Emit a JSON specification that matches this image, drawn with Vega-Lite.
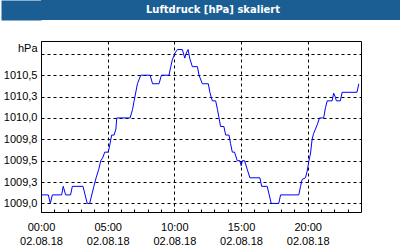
{
  "$schema": "https://vega.github.io/schema/vega-lite/v6.json",
  "background": "white",
  "padding": 0,
  "autosize": {"type": "pad"},
  "spacing": 20,
  "config": {
    "view": {"stroke": "black", "strokeWidth": 1},
    "font": "Liberation Sans",
    "axis": {"labelColor": "black", "labelFont": "Liberation Sans", "labelFontSize": 11}
  },
  "vconcat": [
    {
      "width": 360,
      "height": 20,
      "view": {"fill": "#1a5e94", "stroke": null},
      "data": {"values": [{"title": "Luftdruck [hPa] skaliert", "band": 1}]},
      "mark": {"type": "text", "color": "white", "font": "DejaVu Sans", "fontSize": 10, "fontWeight": "bold", "dx": -8},
      "encoding": {
        "text": {"field": "title", "type": "nominal"},
        "y": {
          "field": "band",
          "type": "quantitative",
          "scale": {"domain": [0, 2]},
          "axis": {
            "title": null,
            "labels": false,
            "ticks": false,
            "grid": false,
            "domain": true,
            "domainColor": "#1a5e94",
            "domainWidth": 40,
            "domainCap": "butt",
            "offset": 20
          }
        }
      }
    },
    {
      "width": 320,
      "height": 171,
      "view": {"fill": "white", "stroke": "black"},
      "data": {"values": [
        {"time": "2018-08-02T00:03:00", "hPa": 1009.1},
        {"time": "2018-08-02T00:33:00", "hPa": 1009.1},
        {"time": "2018-08-02T00:42:00", "hPa": 1009.0},
        {"time": "2018-08-02T00:51:00", "hPa": 1009.1},
        {"time": "2018-08-02T01:33:00", "hPa": 1009.1},
        {"time": "2018-08-02T01:40:00", "hPa": 1009.2},
        {"time": "2018-08-02T01:51:00", "hPa": 1009.1},
        {"time": "2018-08-02T02:13:00", "hPa": 1009.1},
        {"time": "2018-08-02T02:21:00", "hPa": 1009.2},
        {"time": "2018-08-02T03:09:00", "hPa": 1009.2},
        {"time": "2018-08-02T03:28:00", "hPa": 1009.0},
        {"time": "2018-08-02T03:39:00", "hPa": 1009.0},
        {"time": "2018-08-02T03:58:00", "hPa": 1009.2},
        {"time": "2018-08-02T04:08:00", "hPa": 1009.3},
        {"time": "2018-08-02T04:20:00", "hPa": 1009.4},
        {"time": "2018-08-02T04:29:00", "hPa": 1009.5},
        {"time": "2018-08-02T04:37:00", "hPa": 1009.53},
        {"time": "2018-08-02T04:47:00", "hPa": 1009.6},
        {"time": "2018-08-02T05:02:00", "hPa": 1009.6},
        {"time": "2018-08-02T05:07:00", "hPa": 1009.65},
        {"time": "2018-08-02T05:18:00", "hPa": 1009.8},
        {"time": "2018-08-02T05:29:00", "hPa": 1009.8},
        {"time": "2018-08-02T05:37:00", "hPa": 1009.87},
        {"time": "2018-08-02T05:41:00", "hPa": 1010.0},
        {"time": "2018-08-02T06:41:00", "hPa": 1010.0},
        {"time": "2018-08-02T06:52:00", "hPa": 1010.1},
        {"time": "2018-08-02T06:59:00", "hPa": 1010.2},
        {"time": "2018-08-02T07:14:00", "hPa": 1010.4},
        {"time": "2018-08-02T07:29:00", "hPa": 1010.5},
        {"time": "2018-08-02T08:11:00", "hPa": 1010.5},
        {"time": "2018-08-02T08:22:00", "hPa": 1010.4},
        {"time": "2018-08-02T08:51:00", "hPa": 1010.4},
        {"time": "2018-08-02T09:02:00", "hPa": 1010.5},
        {"time": "2018-08-02T09:36:00", "hPa": 1010.5},
        {"time": "2018-08-02T09:44:00", "hPa": 1010.6},
        {"time": "2018-08-02T09:51:00", "hPa": 1010.68},
        {"time": "2018-08-02T10:03:00", "hPa": 1010.76},
        {"time": "2018-08-02T10:14:00", "hPa": 1010.8},
        {"time": "2018-08-02T10:36:00", "hPa": 1010.8},
        {"time": "2018-08-02T10:47:00", "hPa": 1010.7},
        {"time": "2018-08-02T10:54:00", "hPa": 1010.76},
        {"time": "2018-08-02T11:02:00", "hPa": 1010.8},
        {"time": "2018-08-02T11:09:00", "hPa": 1010.7},
        {"time": "2018-08-02T11:21:00", "hPa": 1010.6},
        {"time": "2018-08-02T11:44:00", "hPa": 1010.6},
        {"time": "2018-08-02T11:51:00", "hPa": 1010.5},
        {"time": "2018-08-02T12:06:00", "hPa": 1010.4},
        {"time": "2018-08-02T12:33:00", "hPa": 1010.4},
        {"time": "2018-08-02T12:40:00", "hPa": 1010.3},
        {"time": "2018-08-02T12:51:00", "hPa": 1010.2},
        {"time": "2018-08-02T13:06:00", "hPa": 1010.2},
        {"time": "2018-08-02T13:14:00", "hPa": 1010.1},
        {"time": "2018-08-02T13:21:00", "hPa": 1010.0},
        {"time": "2018-08-02T13:28:00", "hPa": 1009.9},
        {"time": "2018-08-02T13:43:00", "hPa": 1009.9},
        {"time": "2018-08-02T13:51:00", "hPa": 1009.8},
        {"time": "2018-08-02T14:06:00", "hPa": 1009.8},
        {"time": "2018-08-02T14:13:00", "hPa": 1009.7},
        {"time": "2018-08-02T14:21:00", "hPa": 1009.6},
        {"time": "2018-08-02T14:31:00", "hPa": 1009.6},
        {"time": "2018-08-02T14:43:00", "hPa": 1009.5},
        {"time": "2018-08-02T14:55:00", "hPa": 1009.5},
        {"time": "2018-08-02T15:01:00", "hPa": 1009.44},
        {"time": "2018-08-02T15:06:00", "hPa": 1009.5},
        {"time": "2018-08-02T15:16:00", "hPa": 1009.5},
        {"time": "2018-08-02T15:28:00", "hPa": 1009.4},
        {"time": "2018-08-02T15:40:00", "hPa": 1009.3},
        {"time": "2018-08-02T16:25:00", "hPa": 1009.3},
        {"time": "2018-08-02T16:33:00", "hPa": 1009.2},
        {"time": "2018-08-02T16:58:00", "hPa": 1009.2},
        {"time": "2018-08-02T17:16:00", "hPa": 1009.0},
        {"time": "2018-08-02T17:50:00", "hPa": 1009.0},
        {"time": "2018-08-02T17:58:00", "hPa": 1009.1},
        {"time": "2018-08-02T19:20:00", "hPa": 1009.1},
        {"time": "2018-08-02T19:28:00", "hPa": 1009.2},
        {"time": "2018-08-02T19:35:00", "hPa": 1009.28},
        {"time": "2018-08-02T19:50:00", "hPa": 1009.3},
        {"time": "2018-08-02T19:58:00", "hPa": 1009.38},
        {"time": "2018-08-02T20:05:00", "hPa": 1009.49},
        {"time": "2018-08-02T20:13:00", "hPa": 1009.59},
        {"time": "2018-08-02T20:20:00", "hPa": 1009.75},
        {"time": "2018-08-02T20:27:00", "hPa": 1009.82},
        {"time": "2018-08-02T20:43:00", "hPa": 1009.92},
        {"time": "2018-08-02T20:53:00", "hPa": 1010.0},
        {"time": "2018-08-02T21:12:00", "hPa": 1010.0},
        {"time": "2018-08-02T21:20:00", "hPa": 1010.12},
        {"time": "2018-08-02T21:28:00", "hPa": 1010.2},
        {"time": "2018-08-02T21:50:00", "hPa": 1010.2},
        {"time": "2018-08-02T21:57:00", "hPa": 1010.29},
        {"time": "2018-08-02T22:05:00", "hPa": 1010.24},
        {"time": "2018-08-02T22:09:00", "hPa": 1010.2},
        {"time": "2018-08-02T22:27:00", "hPa": 1010.2},
        {"time": "2018-08-02T22:35:00", "hPa": 1010.3},
        {"time": "2018-08-02T23:42:00", "hPa": 1010.3},
        {"time": "2018-08-02T23:50:00", "hPa": 1010.4}
      ]},
      "mark": {"type": "line", "color": "#0000ff", "strokeWidth": 1},
      "encoding": {
        "x": {
          "field": "time",
          "type": "temporal",
          "scale": {
            "domain": [
              {"year": 2018, "month": 8, "date": 2, "hours": 0},
              {"year": 2018, "month": 8, "date": 3, "hours": 0}
            ],
            "nice": false
          },
          "axis": {
            "title": null,
            "values": [
              {"year": 2018, "month": 8, "date": 2, "hours": 0},
              {"year": 2018, "month": 8, "date": 2, "hours": 1},
              {"year": 2018, "month": 8, "date": 2, "hours": 2},
              {"year": 2018, "month": 8, "date": 2, "hours": 3},
              {"year": 2018, "month": 8, "date": 2, "hours": 4},
              {"year": 2018, "month": 8, "date": 2, "hours": 5},
              {"year": 2018, "month": 8, "date": 2, "hours": 6},
              {"year": 2018, "month": 8, "date": 2, "hours": 7},
              {"year": 2018, "month": 8, "date": 2, "hours": 8},
              {"year": 2018, "month": 8, "date": 2, "hours": 9},
              {"year": 2018, "month": 8, "date": 2, "hours": 10},
              {"year": 2018, "month": 8, "date": 2, "hours": 11},
              {"year": 2018, "month": 8, "date": 2, "hours": 12},
              {"year": 2018, "month": 8, "date": 2, "hours": 13},
              {"year": 2018, "month": 8, "date": 2, "hours": 14},
              {"year": 2018, "month": 8, "date": 2, "hours": 15},
              {"year": 2018, "month": 8, "date": 2, "hours": 16},
              {"year": 2018, "month": 8, "date": 2, "hours": 17},
              {"year": 2018, "month": 8, "date": 2, "hours": 18},
              {"year": 2018, "month": 8, "date": 2, "hours": 19},
              {"year": 2018, "month": 8, "date": 2, "hours": 20},
              {"year": 2018, "month": 8, "date": 2, "hours": 21},
              {"year": 2018, "month": 8, "date": 2, "hours": 22},
              {"year": 2018, "month": 8, "date": 2, "hours": 23}
            ],
            "labelExpr": "hours(datum.value) % 5 == 0 ? [timeFormat(datum.value, '%H:%M'), timeFormat(datum.value, '%d.%m.%y')] : ''",
            "labelFlush": false,
            "labelOverlap": false,
            "labelPadding": 12,
            "labelLineHeight": 14,
            "domain": false,
            "ticks": true,
            "tickSize": -3,
            "tickColor": "black",
            "tickWidth": 1,
            "grid": true,
            "gridColor": "black",
            "gridDash": [3, 3],
            "gridWidth": 1,
            "gridOpacity": {"condition": {"test": "hours(datum.value) % 5 == 0", "value": 1}, "value": 0}
          }
        },
        "y": {
          "field": "hPa",
          "type": "quantitative",
          "scale": {"domain": [1008.9, 1010.9], "nice": false, "zero": false},
          "axis": {
            "title": null,
            "values": [1009, 1009.25, 1009.5, 1009.75, 1010, 1010.25, 1010.5, 1010.75],
            "labelExpr": "datum.value > 1010.7 ? 'hPa' : replace(format(datum.value, '.1f'), '.', ',')",
            "labelBaseline": {"condition": {"test": "datum.value > 1010.7", "value": "bottom"}, "value": "middle"},
            "labelPadding": 4,
            "ticks": false,
            "domain": false,
            "grid": true,
            "gridColor": "black",
            "gridDash": [3, 3],
            "gridWidth": 1,
            "minExtent": 40,
            "maxExtent": 40
          }
        }
      }
    }
  ]
}
